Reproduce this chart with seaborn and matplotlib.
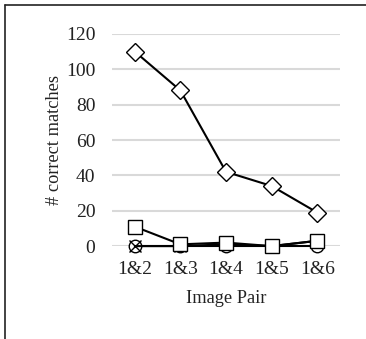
import pandas as pd
import matplotlib
matplotlib.use("Agg")
import matplotlib.pyplot as plt
import seaborn as sns
from matplotlib.lines import Line2D

# data
pairs = ["1&2", "1&3", "1&4", "1&5", "1&6"]
circle_vals = [0, 0, 0, 0, 0]
cross_vals = [0, 0, 1, 0, 3]
square_vals = [11, 1, 2, 0, 3]
diamond_vals = [110, 88, 42, 34, 19]

series = {"circle": circle_vals, "cross": cross_vals,
          "square": square_vals, "diamond": diamond_vals}
rows = []
for name, vals in series.items():
    for p, v in zip(pairs, vals):
        rows.append({"pair": p, "matches": v, "method": name})
df = pd.DataFrame(rows)

sns.set_style("white")
plt.rcParams["font.family"] = ["Liberation Serif", "DejaVu Serif"]

fig = plt.figure(figsize=(3.66, 3.39), dpi=100)
ax = fig.add_axes([0.306, 0.274, 0.623, 0.626])

markers = {"circle": "o", "cross": "x", "square": "s", "diamond": "D"}
sizes = {"circle": 9, "cross": 8, "square": 10, "diamond": 9}
for name in series:
    sub = df[df["method"] == name]
    mk = markers[name]
    sns.lineplot(data=sub, x="pair", y="matches", ax=ax, color="black",
                 lw=1.5, marker=mk, markersize=sizes[name],
                 markerfacecolor="white" if mk != "x" else "none",
                 markeredgecolor="black", markeredgewidth=1.0,
                 clip_on=False, zorder=3, legend=False)

ax.set_xlim(-0.5, len(pairs) - 0.5)
ax.set_ylim(0, 120)
ax.set_yticks(range(0, 121, 20))
ax.yaxis.grid(True, color="#d9d9d9", lw=1.5)
ax.set_axisbelow(True)
for s in ax.spines.values():
    s.set_visible(False)
ax.tick_params(axis="both", length=0, labelsize=14, colors="#222222")
ax.tick_params(axis="y", pad=12)
ax.tick_params(axis="x", pad=11)
ax.set_xlabel("Image Pair", fontsize=13.2, labelpad=8, color="#222222")
ax.set_ylabel("# correct matches", fontsize=13.2, labelpad=2, color="#222222")

# outer frame (top and left edges visible)
fig.add_artist(Line2D([5 / 366, 1], [1 - 5 / 339, 1 - 5 / 339],
                      transform=fig.transFigure, color="#222222", lw=1.2))
fig.add_artist(Line2D([5 / 366, 5 / 366], [0, 1 - 5 / 339],
                      transform=fig.transFigure, color="#222222", lw=1.2))

fig.savefig("out.png", dpi=100)
